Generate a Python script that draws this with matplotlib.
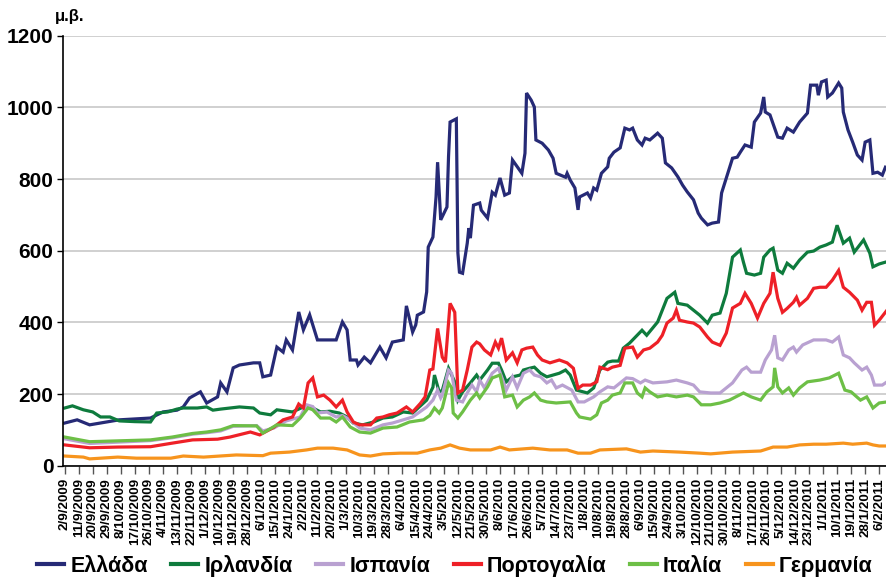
import numpy as np
import pandas as pd
import matplotlib
matplotlib.use("Agg")
import matplotlib.pyplot as plt
import matplotlib.dates as mdates

plt.rcParams['font.family'] = ['Liberation Sans', 'DejaVu Sans']

start_date = "2009-09-02"

# Spreads (basis points), day offsets from 2 Sep 2009
greece_days = [0, 8, 16, 27, 35, 55, 63, 72, 76, 80, 87, 91, 98, 100, 104, 108, 112, 121, 125, 127,
               132, 136, 140, 142, 146, 150, 153, 157, 162, 168, 174, 178, 181, 183, 187, 188, 192,
               196, 202, 206, 210, 217, 219, 223, 225, 226, 230, 231, 232, 233, 236, 238, 239, 240,
               241, 245, 246, 247, 251, 252, 253, 255, 258, 259, 260, 262, 266, 267, 271, 274, 276,
               279, 282, 285, 287, 293, 295, 296, 299, 301, 302, 306, 310, 313, 315, 321, 322, 324,
               327, 329, 330, 335, 337, 339, 341, 344, 348, 349, 352, 356, 359, 362, 364, 367, 370,
               372, 375, 380, 383, 385, 389, 393, 396, 399, 403, 406, 408, 412, 415, 419, 421, 424,
               428, 431, 433, 436, 440, 442, 446, 448, 449, 452, 457, 460, 463, 467, 471, 476, 478,
               482, 483, 485, 488, 489, 492, 496, 498, 499, 502, 505, 508, 511, 513, 516, 518, 521,
               524, 526]
greece = [119, 128, 114, 122, 128, 133, 150, 155, 164, 189, 206, 175, 192, 231, 206, 273, 281, 287,
          287, 248, 253, 331, 317, 351, 323, 429, 379, 421, 351, 351, 351, 401, 379, 295, 295, 281,
          303, 287, 331, 301, 345, 351, 446, 373, 393, 420, 429, 457, 485, 610, 638, 750, 847, 769,
          686, 722, 862, 959, 968, 594, 540, 537, 621, 663, 635, 727, 733, 713, 691, 763, 755, 803,
          755, 761, 853, 816, 872, 1040, 1020, 1001, 909, 900, 881, 858, 816, 805, 816, 797, 775,
          714, 750, 761, 747, 775, 769, 816, 834, 858, 875, 887, 942, 937, 942, 909, 895, 914, 909,
          928, 914, 845, 831, 806, 783, 764, 742, 705, 691, 672, 677, 680, 761, 803, 858, 861, 875,
          895, 889, 959, 984, 1029, 987, 979, 917, 914, 942, 931, 959, 984, 1062, 1062, 1034, 1071,
          1076, 1029, 1040, 1068, 1054, 987, 937, 903, 867, 853, 903, 909, 816, 819, 811, 833]

ireland_days = [0, 5, 12, 18, 23, 29, 35, 45, 55, 59, 66, 72, 76, 85, 91, 95, 100, 112, 121, 125,
                132, 136, 146, 153, 159, 164, 170, 176, 181, 185, 191, 198, 204, 210, 217, 223, 232,
                236, 237, 240, 242, 246, 248, 250, 252, 255, 260, 264, 266, 271, 274, 278, 280, 283,
                287, 292, 294, 298, 301, 305, 309, 313, 317, 321, 324, 328, 335, 339, 343, 348, 351,
                355, 358, 362, 370, 373, 380, 386, 391, 393, 399, 403, 407, 412, 415, 420, 424, 428,
                433, 435, 437, 442, 446, 448, 452, 454, 457, 460, 463, 467, 471, 476, 480, 484, 488,
                492, 495, 499, 503, 506, 512, 516, 518, 522, 526]
ireland = [161, 167, 156, 150, 136, 136, 125, 123, 122, 147, 150, 158, 161, 161, 164, 155, 158, 164,
           161, 147, 142, 156, 150, 164, 161, 150, 152, 147, 136, 119, 114, 122, 133, 136, 150, 147,
           183, 219, 253, 206, 210, 272, 253, 234, 183, 206, 231, 253, 239, 267, 286, 286, 267, 234,
           248, 253, 267, 272, 275, 258, 248, 253, 258, 267, 253, 211, 203, 217, 267, 289, 292, 292,
           328, 342, 378, 364, 401, 467, 484, 453, 448, 434, 420, 398, 420, 426, 481, 582, 602, 568,
           537, 532, 537, 582, 602, 607, 546, 537, 565, 551, 574, 596, 599, 610, 616, 624, 671, 621,
           635, 596, 630, 593, 555, 563, 568]

spain_days = [0, 16, 55, 69, 82, 91, 100, 108, 123, 127, 134, 142, 151, 155, 159, 162, 168, 174,
              178, 183, 189, 196, 204, 210, 217, 223, 232, 236, 239, 241, 242, 246, 248, 251, 255,
              258, 261, 264, 266, 269, 274, 278, 280, 283, 287, 290, 294, 298, 301, 305, 309, 312,
              315, 319, 325, 329, 333, 339, 343, 348, 352, 356, 360, 364, 369, 372, 377, 386, 392,
              399, 403, 407, 414, 420, 424, 428, 434, 437, 440, 446, 449, 453, 455, 457, 460, 464,
              467, 469, 473, 480, 488, 492, 496, 499, 503, 506, 511, 514, 517, 519, 524, 527]
spain = [75, 62, 70, 78, 88, 92, 97, 110, 112, 97, 105, 125, 136, 170, 165, 147, 150, 136, 140, 128,
         105, 100, 114, 119, 128, 136, 164, 183, 211, 189, 197, 267, 258, 183, 178, 203, 225, 206,
         239, 217, 258, 272, 248, 211, 248, 217, 258, 267, 253, 248, 231, 239, 217, 225, 211, 178,
         178, 192, 206, 220, 217, 231, 245, 243, 231, 239, 231, 234, 239, 231, 225, 206, 203, 203,
         217, 231, 267, 275, 261, 261, 295, 323, 364, 301, 295, 323, 331, 317, 337, 351, 351, 345,
         359, 309, 301, 287, 267, 275, 253, 225, 225, 234]

portugal_days = [0, 16, 34, 55, 69, 82, 98, 106, 119, 125, 134, 140, 146, 150, 153, 156, 159, 162,
                 166, 170, 174, 178, 181, 185, 189, 196, 200, 204, 208, 213, 219, 223, 228, 231, 234,
                 236, 239, 242, 244, 247, 250, 252, 255, 258, 261, 264, 266, 269, 273, 276, 278, 280,
                 283, 287, 290, 293, 296, 300, 303, 306, 311, 317, 322, 326, 329, 332, 337, 341, 343,
                 348, 351, 356, 359, 364, 367, 371, 375, 380, 383, 386, 390, 392, 394, 399, 403, 407,
                 412, 415, 420, 424, 428, 433, 436, 440, 444, 448, 452, 454, 457, 460, 463, 467, 469,
                 471, 476, 480, 484, 488, 492, 496, 499, 503, 508, 511, 514, 517, 519, 522, 527]
portugal = [58, 50, 52, 53, 63, 72, 74, 80, 94, 86, 107, 128, 136, 172, 161, 231, 245, 192, 197, 183,
            164, 183, 150, 122, 114, 114, 133, 136, 142, 147, 164, 150, 174, 192, 267, 270, 383, 303,
            289, 453, 428, 203, 211, 267, 331, 345, 340, 323, 309, 345, 328, 356, 295, 315, 287, 323,
            328, 331, 309, 295, 287, 295, 287, 272, 216, 225, 225, 234, 275, 268, 275, 280, 328, 331,
            303, 323, 328, 345, 364, 398, 412, 434, 406, 401, 398, 387, 359, 345, 336, 370, 440, 453,
            481, 453, 412, 453, 481, 540, 467, 428, 439, 456, 470, 448, 467, 495, 498, 498, 518, 545,
            498, 484, 462, 434, 456, 456, 392, 406, 434]

italy_days = [0, 16, 55, 69, 82, 91, 100, 108, 123, 127, 136, 146, 151, 156, 159, 164, 170, 174,
              178, 183, 189, 196, 204, 213, 221, 230, 234, 237, 240, 242, 246, 248, 249, 252, 255,
              260, 264, 266, 271, 274, 279, 282, 287, 290, 294, 298, 301, 305, 309, 315, 324, 328,
              330, 337, 341, 344, 348, 351, 356, 359, 364, 367, 370, 372, 375, 380, 386, 392, 399,
              403, 408, 414, 420, 426, 435, 440, 446, 450, 454, 455, 457, 460, 464, 467, 471, 476,
              484, 490, 496, 500, 504, 510, 514, 518, 522, 527]
italy = [80, 67, 72, 80, 90, 94, 100, 112, 111, 91, 114, 112, 133, 161, 156, 133, 133, 122, 136, 108,
         94, 91, 105, 108, 122, 128, 140, 161, 147, 161, 231, 217, 147, 133, 150, 183, 203, 189, 220,
         245, 253, 192, 197, 164, 183, 192, 203, 183, 178, 175, 178, 147, 136, 130, 142, 175, 183,
         197, 203, 231, 231, 203, 192, 217, 206, 192, 197, 192, 197, 192, 170, 170, 175, 183, 203,
         192, 183, 206, 220, 273, 220, 203, 217, 197, 217, 234, 239, 245, 258, 211, 206, 183, 192,
         161, 175, 178]

germany_days = [0, 12, 16, 34, 46, 68, 76, 89, 110, 127, 132, 144, 155, 162, 172, 181, 189, 196,
                204, 215, 226, 234, 241, 247, 253, 260, 273, 279, 285, 300, 311, 322, 329, 337, 343,
                360, 369, 377, 394, 407, 414, 428, 446, 454, 463, 471, 480, 488, 499, 505, 514, 518,
                522, 527]
germany = [27, 24, 19, 24, 21, 21, 27, 24, 30, 28, 35, 38, 44, 49, 49, 44, 30, 27, 33, 35, 35, 44,
           49, 58, 49, 44, 44, 52, 44, 49, 44, 44, 35, 35, 44, 47, 38, 41, 38, 35, 33, 38, 41, 52,
           52, 58, 60, 60, 63, 60, 63, 58, 55, 55]

series_names = ["Ελλάδα", "Ιρλανδία", "Ισπανία", "Πορτογαλία", "Ιταλία", "Γερμανία"]
series_colors = ["#262A76", "#0E7B3D", "#B9A1D1", "#EE2027", "#6DBF46", "#F7941D"]

y_ticks = [0, 200, 400, 600, 800, 1000, 1200]
y_label = "μ.β."

t0 = pd.Timestamp(start_date)


def to_dates(days):
    return t0 + pd.to_timedelta(np.asarray(days), unit="D")


fig = plt.figure(figsize=(8.87, 5.78), dpi=100)
ax = fig.add_axes([63.1 / 887, 1 - 465.7 / 578, (887 - 63.1) / 887, 430 / 578])

data = [(greece_days, greece), (ireland_days, ireland), (spain_days, spain),
        (portugal_days, portugal), (italy_days, italy), (germany_days, germany)]
for (d, v), name, col in zip(data, series_names, series_colors):
    ax.plot(to_dates(d), v, color=col, lw=2.3, label=name, solid_joinstyle="miter")

ax.set_ylim(0, 1200)
ax.set_yticks(y_ticks)
ax.set_xlim(t0 - pd.Timedelta(days=1), t0 + pd.Timedelta(days=527))
tick_dates = pd.date_range(t0, periods=59, freq="9D")
ax.set_xticks(tick_dates)
ax.set_xticklabels([f"{d.day}/{d.month}/{d.year}" for d in tick_dates], rotation=90,
                   fontsize=9.6, fontweight="bold", va="top", ha="center")
for lbl in ax.get_yticklabels():
    lbl.set_fontsize(15)
    lbl.set_fontweight("bold")

ax.grid(axis="y", color="#C8C8C8", lw=1.2)
ax.set_axisbelow(True)
for s in ["top", "right"]:
    ax.spines[s].set_visible(False)
ax.spines["left"].set_color("black")
ax.spines["bottom"].set_color("black")
ax.spines["left"].set_linewidth(1.2)
ax.spines["bottom"].set_linewidth(1.2)
ax.tick_params(axis="y", length=4, width=1, pad=3)
ax.tick_params(axis="x", length=6, width=1, color="#555555", pad=3)

fig.text(55 / 887, 1 - 16 / 578, y_label, fontsize=12, fontweight="bold", va="center", ha="left")

leg = fig.legend(loc="center", bbox_to_anchor=(455 / 887, 1 - 566 / 578), ncol=6, frameon=False,
                 prop={"size": 15.5, "weight": "bold"}, handlelength=1.25, handletextpad=0.28,
                 columnspacing=1.1)
for h in leg.get_lines():
    h.set_linewidth(3)

fig.savefig("out.png", dpi=100)
